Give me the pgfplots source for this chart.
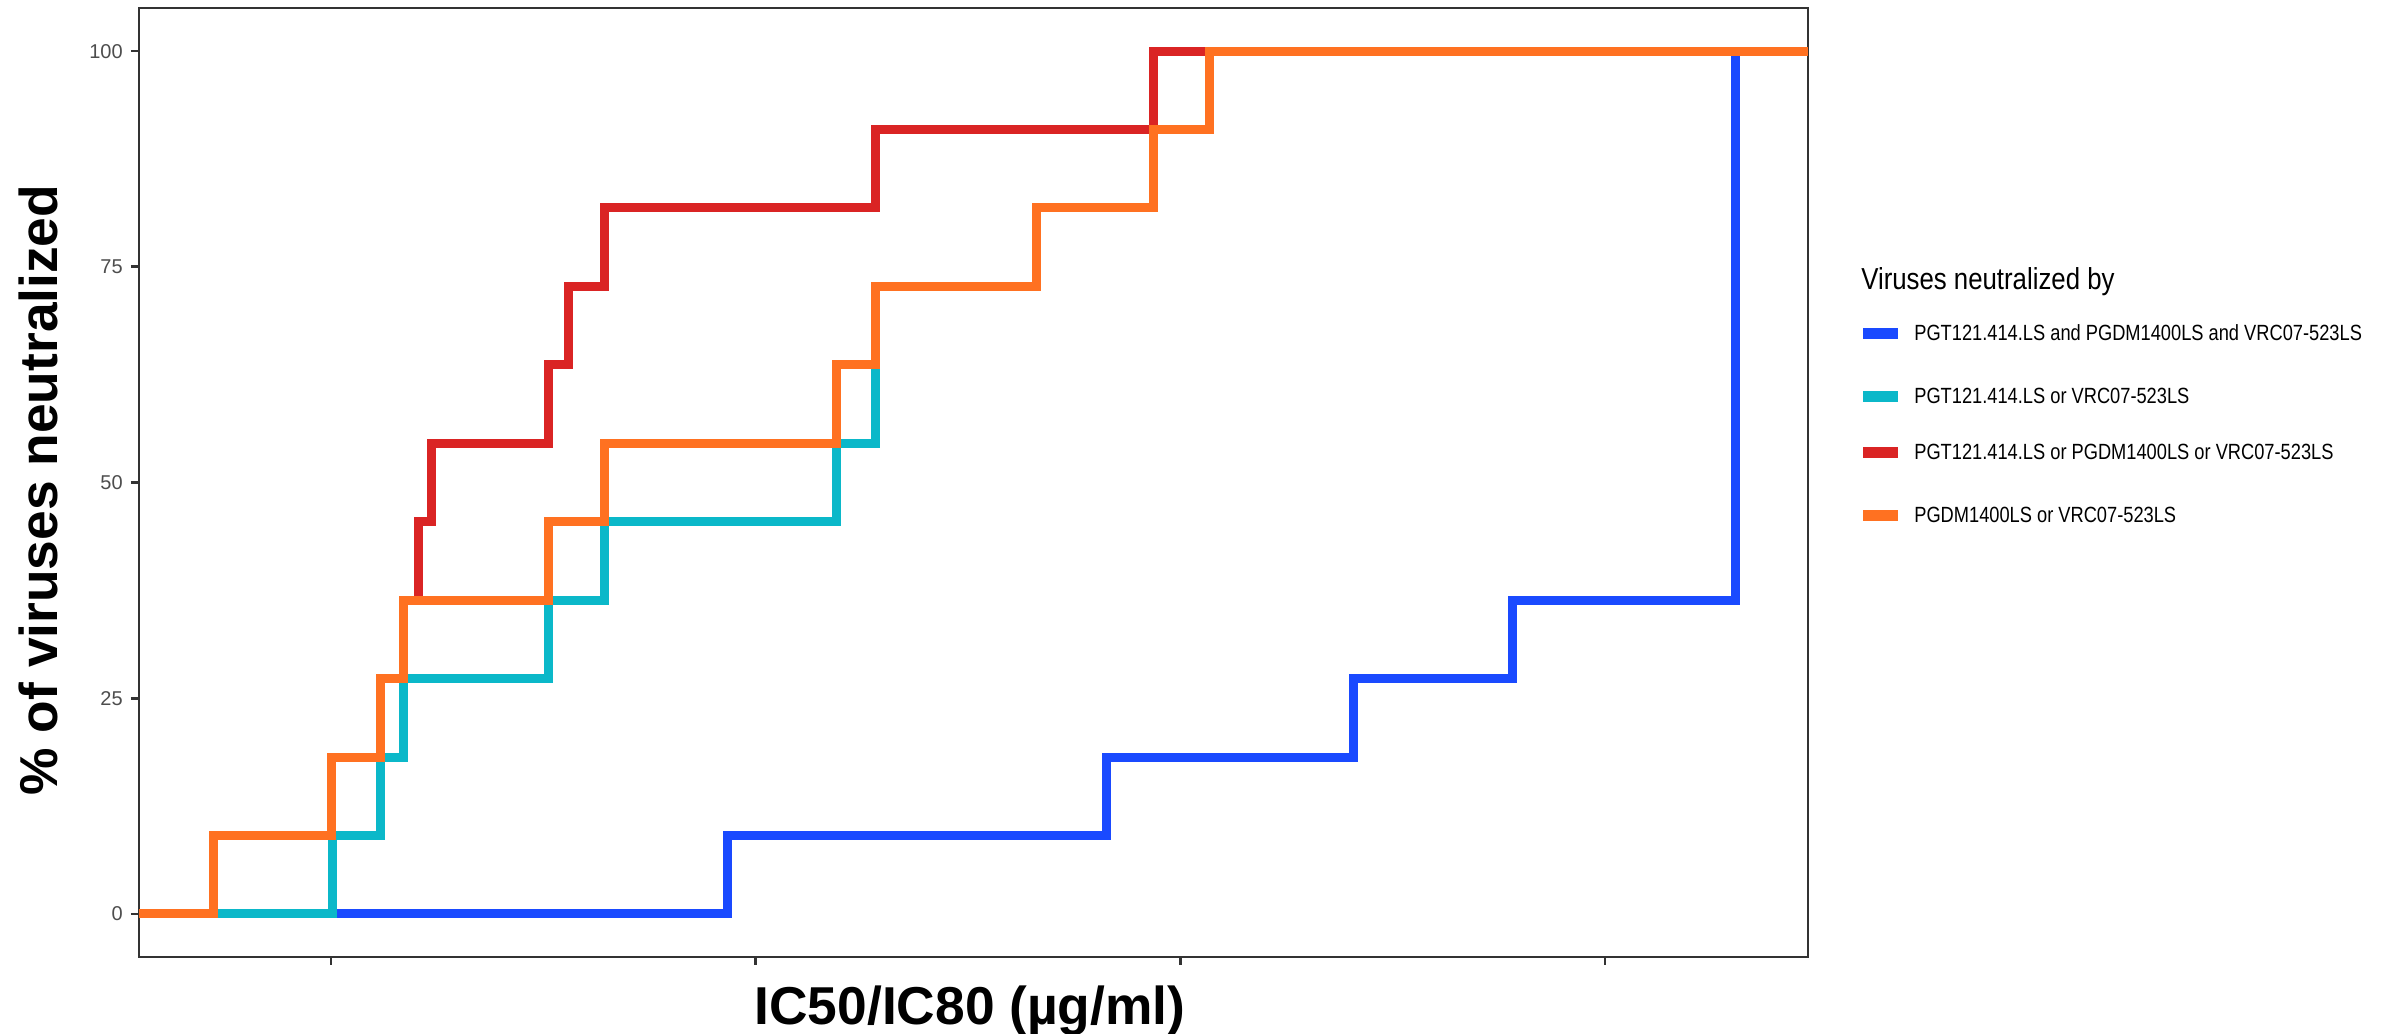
\documentclass[border=0pt]{standalone}
\usepackage{fontspec}
\setmainfont{Liberation Sans}
\usepackage{graphicx}
\usepackage{pgfplots}
\pgfplotsset{compat=1.18}

\definecolor{cBlue}{HTML}{1A4AFF}
\definecolor{cCyan}{HTML}{0BB8C9}
\definecolor{cRed}{HTML}{DA2424}
\definecolor{cOrange}{HTML}{FF7121}
\definecolor{axisgray}{HTML}{333333}
\definecolor{tickgray}{HTML}{4D4D4D}

% legend text helpers
\newcommand{\legtitle}[1]{\scalebox{0.85}[1]{\fontsize{9.1}{10}\selectfont #1}}
\newcommand{\legtext}[1]{\scalebox{0.83}[1]{\fontsize{6.6}{7}\selectfont #1}}

\begin{document}
\begin{tikzpicture}
\useasboundingbox (0,0) rectangle (718.2pt,310.2pt);
\begin{axis}[
  at={(41.7pt,23.1pt)}, anchor=south west,
  scale only axis, width=500.7pt, height=284.7pt,
  xmin=-0.452, xmax=3.478, ymin=-5, ymax=105,
  xtick={0,1,2,3}, xticklabels={},
  ytick={0,25,50,75,100},
  tick align=outside, xtick pos=bottom, ytick pos=left,
  major tick length=2.4pt,
  tick style={color=axisgray, line width=0.8pt},
  axis line style={color=axisgray, line width=0.8pt},
  /pgf/number format/assume math mode=true,
  yticklabel style={font=\fontsize{6}{6}\selectfont, text=tickgray, inner sep=0pt, anchor=east, xshift=-2.3pt},
  every axis plot/.append style={const plot, line width=2.7pt, no marks},
  xlabel={IC50/IC80 (µg/ml)},
  ylabel={\% of viruses neutralized},
  every axis x label/.style={at={(axis description cs:0.4979,-0.07092)}, anchor=base, inner sep=0pt, font=\fontsize{16}{16}\selectfont\bfseries},
  every axis y label/.style={at={(axis description cs:-0.04895,0.4921)}, rotate=90, anchor=base, inner sep=0pt, font=\fontsize{16}{16}\selectfont\bfseries},
]
% PGT121.414.LS and PGDM1400LS and VRC07-523LS
\addplot[cBlue] coordinates {(-0.452,0) (0.933,9.09) (1.827,18.18) (2.407,27.27) (2.783,36.36) (3.307,100) (3.478,100)};
% PGT121.414.LS or VRC07-523LS
\addplot[cCyan] coordinates {(-0.452,0) (0.003,9.09) (0.1175,18.18) (0.171,27.27) (0.512,36.36) (0.643,45.45) (1.191,54.55) (1.283,72.73) (1.661,81.82) (1.936,90.91) (2.068,100) (3.478,100)};
% PGT121.414.LS or PGDM1400LS or VRC07-523LS
\addplot[cRed] coordinates {(-0.452,0) (-0.276,9.09) (0.002,18.18) (0.1175,27.27) (0.171,36.36) (0.205,45.45) (0.236,54.55) (0.512,63.64) (0.559,72.73) (0.643,81.82) (1.283,90.91) (1.936,100) (3.478,100)};
% PGDM1400LS or VRC07-523LS
\addplot[cOrange] coordinates {(-0.452,0) (-0.276,9.09) (0.002,18.18) (0.1175,27.27) (0.171,36.36) (0.512,45.45) (0.643,54.55) (1.191,63.64) (1.283,72.73) (1.661,81.82) (1.936,90.91) (2.068,100) (3.478,100)};
\end{axis}

% legend
\node[anchor=base west, inner sep=0pt] at (558.2pt,223.2pt) {\legtitle{Viruses neutralized by}};
\fill[cBlue]   (558.75pt,208.41pt) rectangle (569.3pt,211.71pt);
\fill[cCyan]   (558.75pt,189.51pt) rectangle (569.3pt,192.81pt);
\fill[cRed]    (558.75pt,172.80pt) rectangle (569.3pt,176.10pt);
\fill[cOrange] (558.75pt,153.81pt) rectangle (569.3pt,157.11pt);
\node[anchor=base west, inner sep=0pt] at (574.1pt,207.99pt) {\legtext{PGT121.414.LS and PGDM1400LS and VRC07-523LS}};
\node[anchor=base west, inner sep=0pt] at (574.1pt,189.09pt) {\legtext{PGT121.414.LS or VRC07-523LS}};
\node[anchor=base west, inner sep=0pt] at (574.1pt,172.38pt) {\legtext{PGT121.414.LS or PGDM1400LS or VRC07-523LS}};
\node[anchor=base west, inner sep=0pt] at (574.1pt,153.39pt) {\legtext{PGDM1400LS or VRC07-523LS}};
\end{tikzpicture}
\end{document}
